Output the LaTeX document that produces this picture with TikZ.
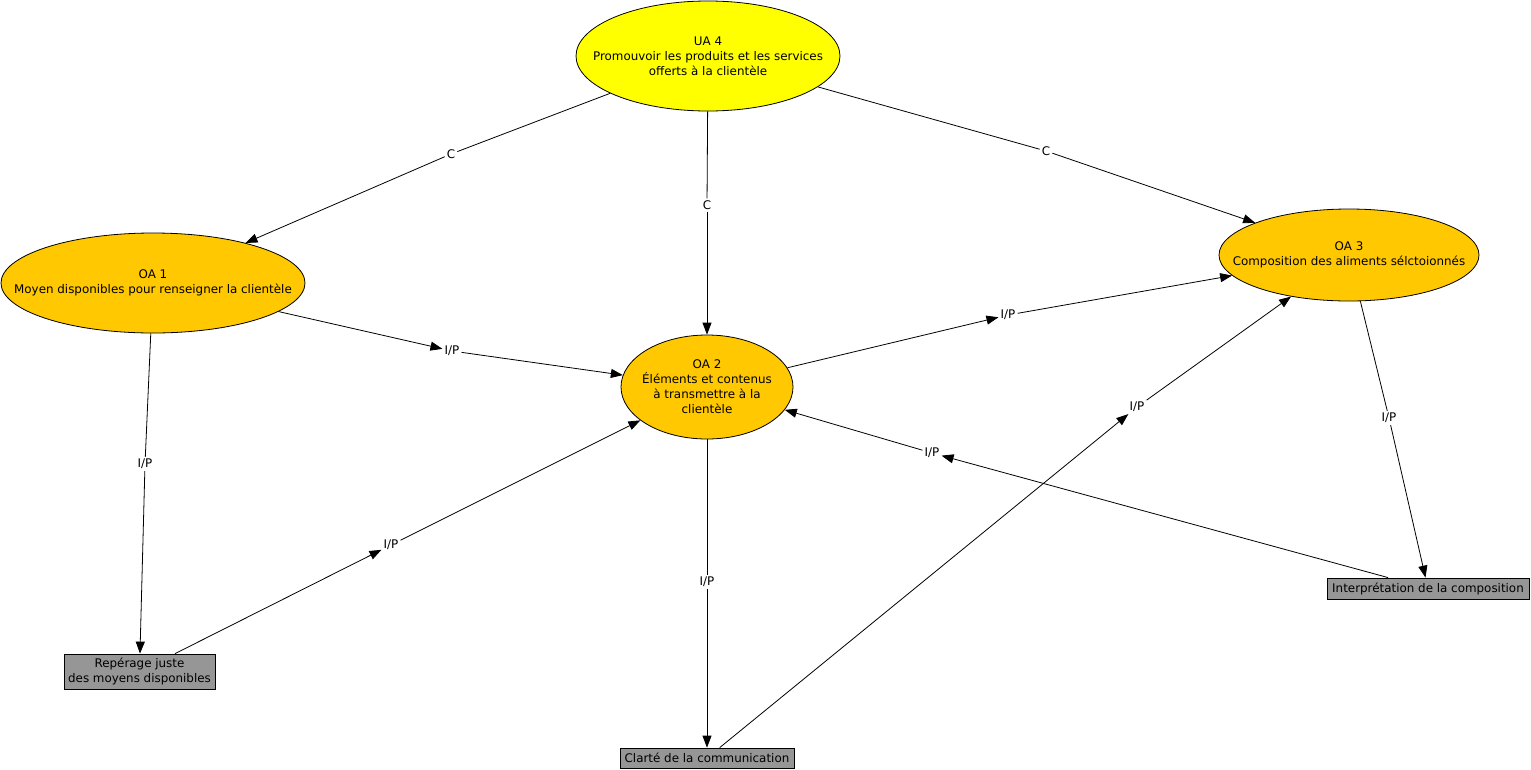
\documentclass[tikz,border=0pt]{standalone}
\usepackage{fontspec}
\setmainfont{DejaVu Sans}
\usetikzlibrary{shapes.geometric,arrows.meta}
\definecolor{uayel}{HTML}{FFFF00}
\definecolor{oaorg}{HTML}{FFC800}
\definecolor{boxgray}{HTML}{969696}
\begin{document}
\begin{tikzpicture}[x=1pt,y=-1pt,
  every node/.style={font=\fontsize{11.9}{15}\selectfont, align=center},
  oval/.style={ellipse, draw=black, line width=0.8pt, inner sep=0pt},
  txt/.style={inner sep=0pt},
  graybox/.style={rectangle, draw=black, line width=0.8pt, fill=boxgray, inner sep=0pt},
  lbl/.style={inner sep=2pt},
  conn/.style={draw=black, line width=0.8pt},
  arr/.style={conn, -{Triangle[length=12pt,width=9pt]}}
]
\useasboundingbox (0,0) rectangle (1531,769);

\node[oval, fill=uayel, minimum width=264pt, minimum height=110pt] (ua4) at (708,56) {};
\node[txt] (ua4t) at (708,56) {UA 4\\Promouvoir les produits et les services\\offerts à la clientèle};
\node[oval, fill=oaorg, minimum width=304pt, minimum height=100pt] (oa1) at (153,283) {};
\node[txt] (oa1t) at (153,283) {OA 1\\Moyen disponibles pour renseigner la clientèle};
\node[oval, fill=oaorg, minimum width=172pt, minimum height=104pt] (oa2) at (707,387) {};
\node[txt] (oa2t) at (707,387) {OA 2\\Éléments et contenus\\à transmettre à la\\clientèle};
\node[oval, fill=oaorg, minimum width=260pt, minimum height=92pt] (oa3) at (1349,255) {};
\node[txt] (oa3t) at (1349,255) {OA 3\\Composition des aliments sélctoionnés};

\node[graybox, minimum width=151pt, minimum height=35pt] (rep) at (139.5,671.5) {Repérage juste\\des moyens disponibles};
\node[graybox, minimum width=174pt, minimum height=20pt] (cla) at (707,758) {Clarté de la communication};
\node[graybox, minimum width=202pt, minimum height=21pt] (int) at (1428,588.5) {Interprétation de la composition};

% labels
\node[lbl] (l1) at (451,154) {C};
\node[lbl] (l2) at (707,205) {C};
\node[lbl] (l3) at (1046,151) {C};
\node[lbl] (l4) at (452,351) {I/P};
\node[lbl] (l5) at (145,464) {I/P};
\node[lbl] (l6) at (1008,315) {I/P};
\node[lbl] (l7) at (391,545) {I/P};
\node[lbl] (l8) at (707,582) {I/P};
\node[lbl] (l9) at (1137,407) {I/P};
\node[lbl] (l10) at (1389,418) {I/P};
\node[lbl] (l11) at (932,453) {I/P};

% connectors
\draw[conn] (ua4) -- (l1); \draw[arr] (l1) -- (oa1);
\draw[conn] (ua4) -- (l2); \draw[arr] (l2) -- (oa2);
\draw[conn] (ua4) -- (l3); \draw[arr] (l3) -- (oa3);
\draw[arr] (oa1) -- (l4); \draw[arr] (l4) -- (oa2);
\draw[conn] (oa1) -- (l5); \draw[arr] (l5) -- (rep);
\draw[arr] (oa2) -- (l6); \draw[arr] (l6) -- (oa3);
\draw[arr] (rep) -- (l7); \draw[arr] (l7) -- (oa2);
\draw[conn] (oa2) -- (l8); \draw[arr] (l8) -- (cla);
\draw[arr] (cla) -- (l9); \draw[arr] (l9) -- (oa3);
\draw[conn] (oa3) -- (l10); \draw[arr] (l10) -- (int);
\draw[arr] (int) -- (l11); \draw[arr] (l11) -- (oa2);
\end{tikzpicture}
\end{document}
